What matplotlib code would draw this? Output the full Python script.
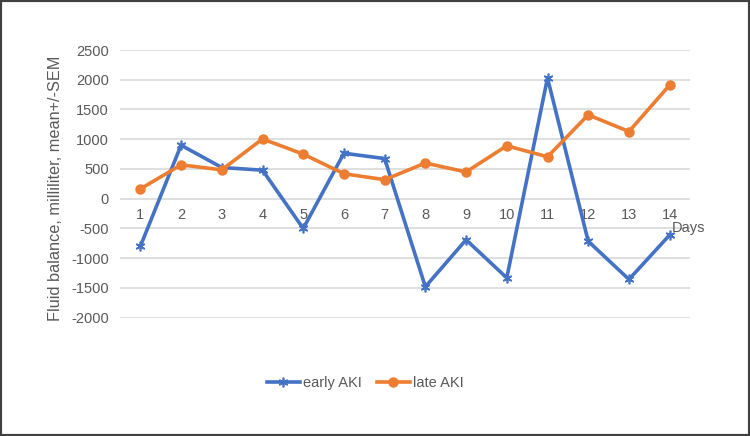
import matplotlib.pyplot as plt
from matplotlib.patches import Rectangle

# Fluid balance per day
days = list(range(1, 15))
early_aki = [-800, 900, 525, 480, -500, 765, 675, -1480, -690, -1330, 2030, -715, -1355, -610]
late_aki = [165, 570, 485, 1005, 750, 420, 320, 600, 450, 890, 705, 1410, 1130, 1910]
y_ticks = [-2000, -1500, -1000, -500, 0, 500, 1000, 1500, 2000, 2500]

BLUE = '#4472C4'
ORANGE = '#ED7D31'
TEXT = '#595959'

plt.rcParams['font.family'] = ['Liberation Sans', 'DejaVu Sans']
plt.rcParams['axes.unicode_minus'] = False

fig = plt.figure(figsize=(7.5, 4.36), dpi=100)
ax = fig.add_axes([0.16, 0.2713, 0.76, 0.614])

ax.plot(days, early_aki, color=BLUE, lw=2.6, marker=(6, 2, 0), ms=7,
        mew=1.2, label='early AKI', zorder=3)
ax.plot(days, late_aki, color=ORANGE, lw=2.6, marker='o', ms=6.5,
        label='late AKI', zorder=3)

ax.set_xlim(0.5, 14.5)
ax.set_ylim(-2000, 2500)
ax.set_yticks(y_ticks)
ax.set_xticks(days)
ax.grid(True, axis='y', color='#D9D9D9', lw=1.2)
ax.set_axisbelow(True)
for s in ax.spines.values():
    s.set_visible(False)
ax.spines['bottom'].set_position(('data', 0))

ax.tick_params(axis='y', length=0, pad=8, labelsize=10.5, labelcolor=TEXT)
ax.tick_params(axis='x', length=0, pad=7, labelsize=10.5, labelcolor=TEXT)

ax.set_ylabel('Fluid balance, milliliter, mean+/-SEM', fontsize=11.7, color=TEXT)
ax.yaxis.set_label_coords(-0.1, 0.485)
ax.text(14.05, -500, 'Days', fontsize=10.5, color=TEXT, ha='left', va='center')

fig.legend(loc='center', bbox_to_anchor=(0.487, 0.122), ncol=2, frameon=False,
           fontsize=10.5, labelcolor=TEXT, handlelength=2.3, handletextpad=0.2,
           columnspacing=1.0)

fig.patches.append(Rectangle((0, 0), 1, 1, transform=fig.transFigure, fill=False,
                             edgecolor='#404040', lw=3))

fig.savefig('out.png', dpi=100)
